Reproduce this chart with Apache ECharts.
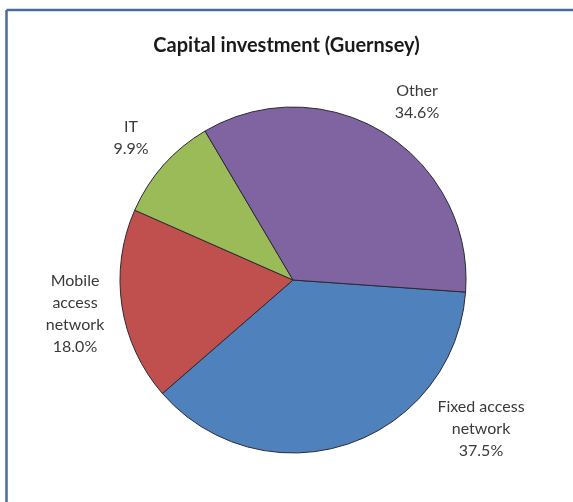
<!DOCTYPE html>
<html>
<head>
<meta charset="utf-8">
<script src="https://cdn.jsdelivr.net/npm/echarts@6/dist/echarts.min.js"></script>
<style>
  html, body { margin: 0; padding: 0; background: #ffffff; }
  #chart { width: 573px; height: 502px; }
</style>
</head>
<body>
<div id="chart"></div>
<script>
// Share of capital investment by category (%)
const categories = ['Fixed access\nnetwork', 'Mobile\naccess\nnetwork', 'IT', 'Other'];
const shares = [37.5, 18.0, 9.9, 34.6];
const sliceColors = ['#4f81bd', '#c0504d', '#9bbb59', '#8064a2'];

// Label anchor points (centre of each text block)
const labelAnchors = [[481, 429], [75, 314], [131, 138], [417, 102]];

const chart = echarts.init(document.getElementById('chart'), null, { renderer: 'canvas' });

chart.setOption({
  animation: false,
  backgroundColor: '#ffffff',
  title: {
    text: 'Capital investment (Guernsey)',
    left: 'center',
    top: 31,
    textStyle: { fontFamily: 'Lato', fontWeight: 'bold', fontSize: 20, color: '#1a1a1a' }
  },
  graphic: [
    { type: 'line', shape: { x1: 6.5, y1: 10, x2: 573, y2: 10 }, style: { stroke: '#4a6c9c', lineWidth: 2.5 } },
    { type: 'line', shape: { x1: 6.5, y1: 10, x2: 6.5, y2: 502 }, style: { stroke: '#4a6c9c', lineWidth: 2.5 } }
  ],
  series: [{
    type: 'pie',
    center: [293, 280],
    radius: 173,
    startAngle: -4,
    clockwise: true,
    silent: true,
    data: categories.map((name, i) => ({
      name: name,
      value: shares[i],
      itemStyle: { color: sliceColors[i] }
    })),
    itemStyle: { borderColor: '#2a2a35', borderWidth: 1 },
    label: {
      show: true,
      position: 'outside',
      formatter: p => p.name + '\n' + p.value.toFixed(1) + '%',
      fontFamily: 'Lato',
      fontSize: 16,
      lineHeight: 22,
      color: '#3a3a3a',
      align: 'center'
    },
    labelLine: { show: false },
    labelLayout: params => {
      const a = labelAnchors[params.dataIndex];
      return { x: a[0], y: a[1], align: 'center', verticalAlign: 'middle' };
    }
  }]
});
</script>
</body>
</html>
